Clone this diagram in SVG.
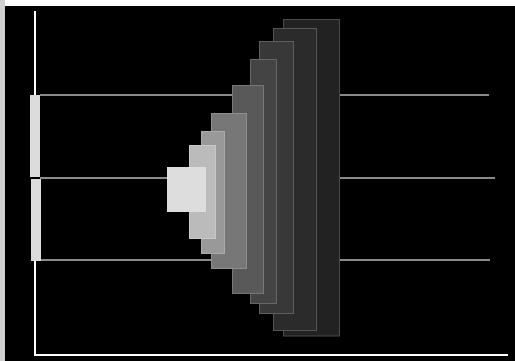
<svg xmlns="http://www.w3.org/2000/svg" width="515" height="361" viewBox="0 0 515 361">
<style>
.bg{fill:#000}
.hl{stroke:#8a8a8a;stroke-width:2;fill:none}
.ax{stroke:#fff;stroke-width:2;fill:none}
.bar{fill:#dcdcdc}
.st{stroke-width:1}
</style>
<rect x="0" y="0" width="515" height="361" fill="#fff"/>
<rect x="0" y="0" width="5" height="361" fill="#d0d0d0"/>
<rect x="5" y="6" width="510" height="355" class="bg"/>
<g id="connectors">
<line class="hl" x1="40" y1="95" x2="489" y2="95"/>
<line class="hl" x1="40" y1="178" x2="495" y2="178"/>
<line class="hl" x1="40" y1="260" x2="490" y2="260"/>
<line class="ax" x1="35" y1="11" x2="35" y2="95"/>
<polyline class="ax" points="35,261 35,355 508,355"/>
</g>
<g id="bar-top"><rect class="bar" x="30" y="95" width="10" height="82"/></g>
<g id="bar-bottom"><rect class="bar" x="31" y="179" width="10" height="82"/></g>
<g id="layer1"><rect x="283.5" y="19.5" width="56" height="316.5" fill="#222" stroke="#4a4a4a"/></g>
<g id="layer2"><rect x="273.5" y="28.5" width="43" height="302" fill="#2b2b2b" stroke="#555"/></g>
<g id="layer3"><rect x="259.5" y="41.5" width="34" height="272" fill="#383838" stroke="#5e5e5e"/></g>
<g id="layer4"><rect x="250.5" y="59.5" width="26" height="244" fill="#444" stroke="#666"/></g>
<g id="layer5"><rect x="232.5" y="85.5" width="31" height="208" fill="#595959" stroke="#777"/></g>
<g id="layer6"><rect x="211.5" y="113.5" width="35" height="155" fill="#777" stroke="#8e8e8e"/></g>
<g id="layer7"><rect x="201.5" y="131.5" width="23" height="122" fill="#999" stroke="#aaa"/></g>
<g id="layer8"><rect x="189.5" y="145.5" width="26" height="93" fill="#bbb" stroke="#c8c8c8"/></g>
<g id="layer9"><rect x="167" y="167" width="39" height="45" fill="#dddddd"/></g>
</svg>
